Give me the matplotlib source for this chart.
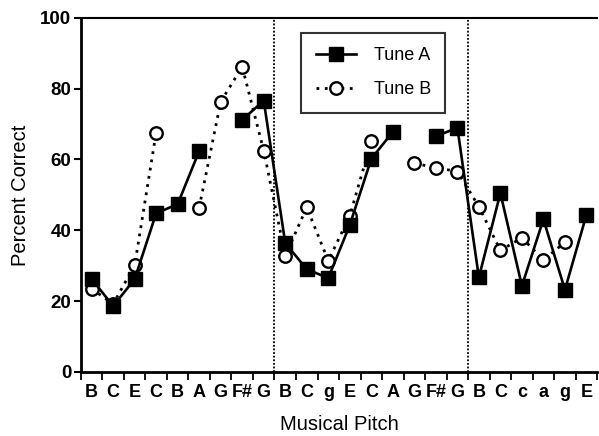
import numpy as np
import matplotlib.pyplot as plt

plt.rcParams['font.family'] = ['Liberation Sans', 'DejaVu Sans']

pitches = ['B', 'C', 'E', 'C', 'B', 'A', 'G', 'F#', 'G',
           'B', 'C', 'g', 'E', 'C', 'A', 'G', 'F#', 'G',
           'B', 'C', 'c', 'a', 'g', 'E']
nan = np.nan
tune_a = [26.3, 18.6, 26.2, 44.8, 47.4, 62.4, nan, 71.2, 76.6,
          36.4, 29.0, 26.5, 41.5, 60.2, 67.8, nan, 66.5, 69.0,
          26.7, 50.5, 24.3, 43.1, 23.2, 44.4]
tune_b = [23.5, 19.2, 30.1, 67.6, nan, 46.4, 76.3, 86.2, 62.5,
          32.8, 46.5, 31.4, 44.1, 65.1, nan, 58.9, 57.7, 56.6,
          46.7, 34.3, 37.9, 31.6, 36.6, nan]
section_breaks = [9, 18]

x = np.arange(len(pitches)) + 0.5

fig = plt.figure(figsize=(5.99, 4.36), dpi=100)
ax = fig.add_axes([0.135, 0.147, 0.862, 0.812])

for b in section_breaks:
    ax.axvline(b, color='black', lw=1.3, ls=(0, (1, 1)), zorder=1)

ax.plot(x, tune_b, color='black', lw=2, ls=(0, (1, 2)), marker='o',
        markersize=9, markerfacecolor='white', markeredgecolor='black',
        markeredgewidth=1.7, label='Tune B', zorder=2)
ax.plot(x, tune_a, color='black', lw=1.9, ls='-', marker='s',
        markersize=9.5, markerfacecolor='black', markeredgecolor='black',
        label='Tune A', zorder=3)

ax.set_xlim(0, len(pitches))
ax.set_ylim(0, 100)
ax.set_yticks([0, 20, 40, 60, 80, 100])
ax.set_xticks(np.arange(len(pitches) + 1))
ax.set_xticklabels([])
ax.set_xticks(x, minor=True)
ax.set_xticklabels(pitches, minor=True, fontsize=13, fontweight='bold')
ax.tick_params(axis='x', which='minor', length=0, pad=9)
ax.tick_params(axis='x', which='major', length=6, width=1.3, direction='out')
ax.tick_params(axis='y', length=5, width=1.5, labelsize=13.5, pad=2)
for lbl in ax.get_yticklabels():
    lbl.set_fontweight('bold')

ax.spines['right'].set_visible(False)
ax.spines['left'].set_linewidth(2)
ax.spines['bottom'].set_linewidth(2)
ax.spines['top'].set_linewidth(1.5)

ax.set_ylabel('Percent Correct', fontsize=14.5, labelpad=7)
ax.set_xlabel('Musical Pitch', fontsize=14.5, labelpad=10)

handles, labels = ax.get_legend_handles_labels()
leg = ax.legend(handles[::-1], labels[::-1], loc='upper left',
                bbox_to_anchor=(0.427, 0.958), fontsize=13, frameon=True,
                fancybox=False, edgecolor='black', handlelength=2.2,
                borderpad=0.8, labelspacing=0.95, handletextpad=1.0,
                borderaxespad=0)
leg.get_frame().set_linewidth(1.5)

fig.savefig('out.png', dpi=100)
